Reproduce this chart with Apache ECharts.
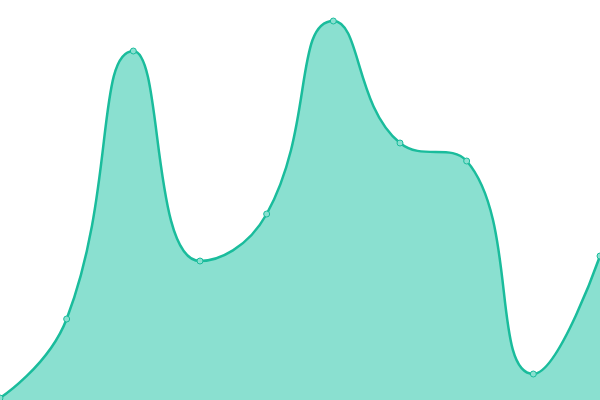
<!DOCTYPE html>
<html><head><meta charset="utf-8">
<script src="https://cdn.jsdelivr.net/npm/echarts@6/dist/echarts.min.js"></script>
<style>html,body{margin:0;padding:0;background:#fff}#c{width:600px;height:400px}</style>
</head><body><div id="c"></div>
<script>
const categories = ['1','2','3','4','5','6','7','8','9','10'];
const values = [2, 81, 349, 139, 186, 379, 257, 239, 26, 144];
const chart = echarts.init(document.getElementById('c'));
chart.setOption({
  animation: false,
  grid: {left: 0, right: 0, top: 0, bottom: 0},
  xAxis: {type: 'category', data: categories, boundaryGap: false, show: false},
  yAxis: {type: 'value', min: 0, max: 400, show: false},
  series: [{
    type: 'line',
    data: values,
    smooth: true,
    symbol: 'circle',
    symbolSize: 6,
    lineStyle: {color: '#1abc9c', width: 2.5},
    itemStyle: {color: '#8ae0d0', borderColor: '#1abc9c', borderWidth: 1},
    areaStyle: {color: '#8ae0d0', opacity: 1}
  }]
});
</script></body></html>
